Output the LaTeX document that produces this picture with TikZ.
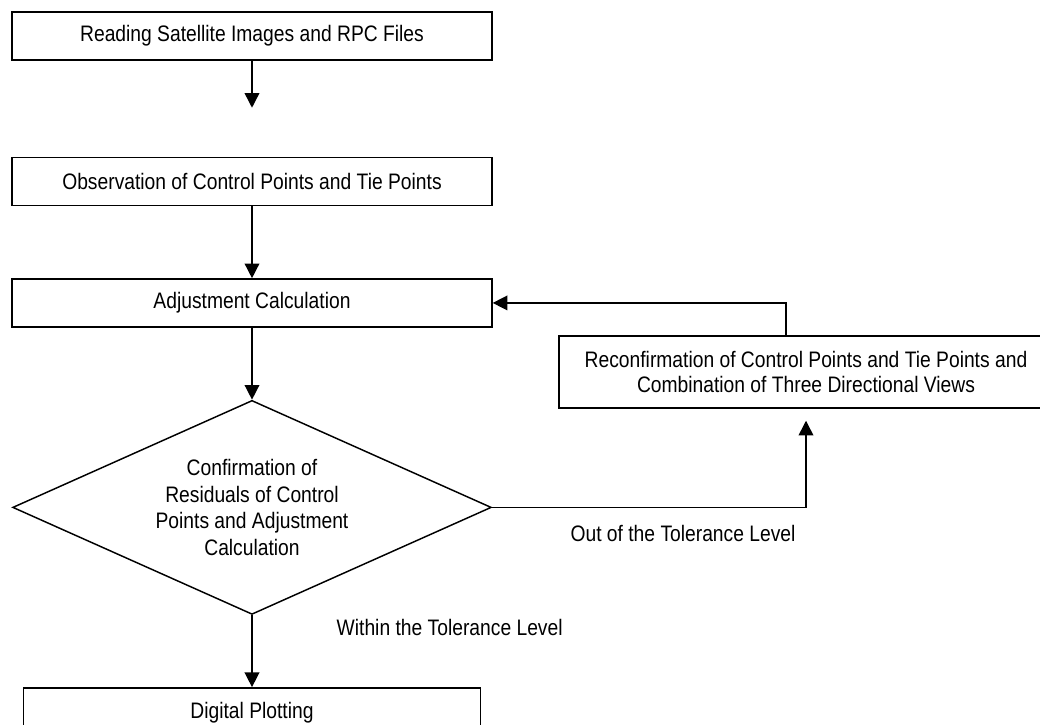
\documentclass[tikz,border=0pt]{standalone}
\usepackage{fontspec}
\setmainfont[FakeStretch=0.86]{Liberation Sans}
\usepackage{tikz}
\usetikzlibrary{shapes.geometric, arrows.meta, positioning, calc}

\begin{document}
\begin{tikzpicture}[
    node distance=54pt,
    proc/.style={draw, line width=1.1pt, minimum width=360pt, minimum height=36pt,
                align=center, font=\fontsize{16.8}{19}\selectfont},
    decision/.style={draw, diamond, line width=1.1pt, aspect=2.24, inner sep=0pt,
                    minimum width=359pt, minimum height=160.5pt, align=center,
                    font=\fontsize{16.8}{20}\selectfont},
    lbl/.style={font=\fontsize{16.8}{19}\selectfont},
    arr/.style={line width=1.1pt, -{Triangle[length=11pt, width=11pt]}}
]
\clip (0,0) rectangle (780pt,-543.75pt);
\node[proc] (read) at (189pt,-27pt) {Reading Satellite Images and RPC Files};
\node[proc, below=72pt of read] (obs) {Observation of Control Points and Tie Points};
\node[proc, below=54pt of obs] (adj) {Adjustment Calculation};
\node[decision, below=54pt of adj] (dec) {Confirmation of \\ Residuals of Control \\ Points and Adjustment \\ Calculation};
\node[proc, minimum width=342.75pt, minimum height=37.5pt, below=54pt of dec] (plot) {Digital Plotting};
\node[proc, minimum width=370.5pt, minimum height=54pt] (recon) at (604.5pt,-279pt)
    {Reconfirmation of Control Points and Tie Points and \\ Combination of Three Directional Views};
\node[lbl] (out) at (512.25pt,-399.75pt) {Out of the Tolerance Level};
\node[lbl, anchor=west] (within) at (249pt,-470.25pt) {Within the Tolerance Level};
\draw[arr, shorten >=36.75pt] (read) -- (obs);
\draw[arr] (obs) -- (adj);
\draw[arr] (adj) -- (dec);
\draw[arr] (dec) -- (plot);
\draw[arr, shorten >=9pt] (dec.east) -| (recon.south);
\draw[arr] ([xshift=-15pt]recon.north) |- (adj.east);
\end{tikzpicture}
\end{document}
